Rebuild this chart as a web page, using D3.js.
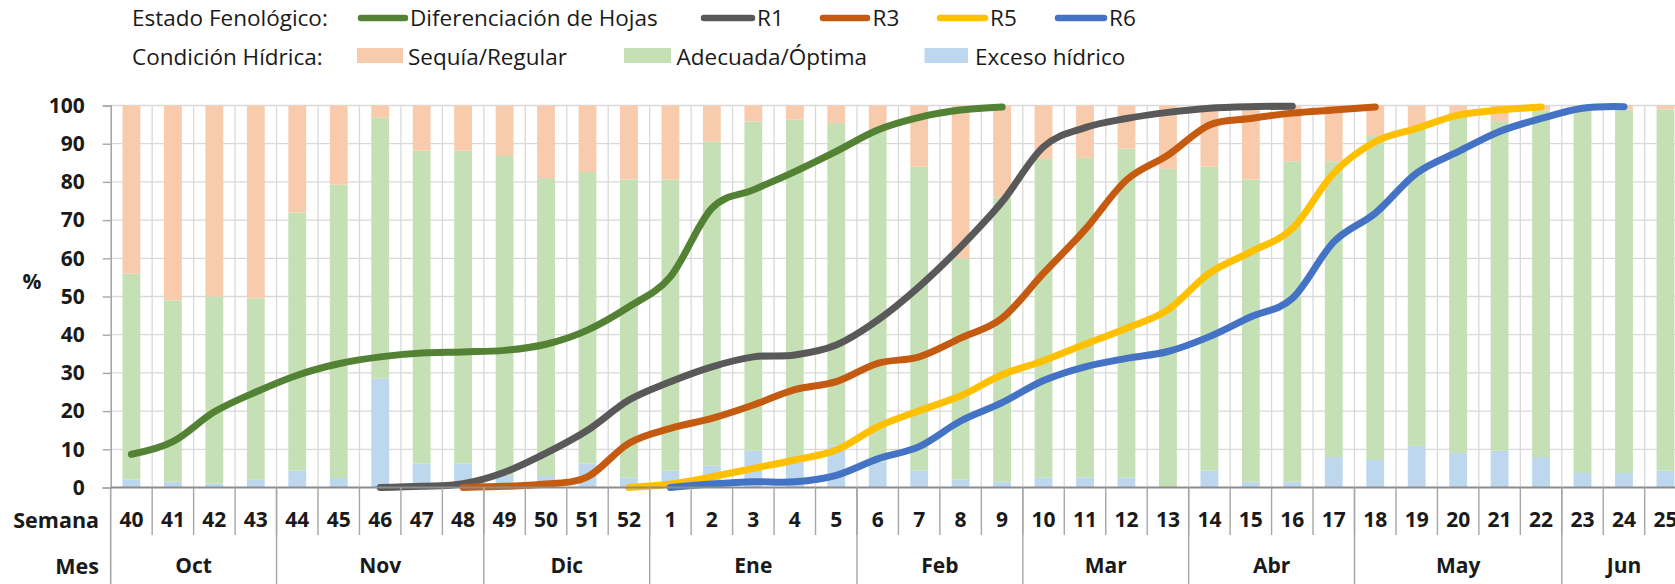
<!DOCTYPE html>
<html>
<head>
<meta charset="utf-8">
<script src="https://cdn.jsdelivr.net/npm/d3@7/dist/d3.min.js"></script>
<style>
  html, body { margin: 0; padding: 0; background: #fff; overflow: hidden; }
  svg { display: block; font-family: "Open Sans", "Noto Sans", sans-serif; }
</style>
</head>
<body>
<svg id="chart" width="1675" height="584"></svg>
<script>
// ---------- DATA ----------
const weeks = ["40","41","42","43","44","45","46","47","48","49","50","51","52",
  "1","2","3","4","5","6","7","8","9","10","11","12","13","14","15","16","17","18","19","20","21","22","23","24","25"];

const monthNames = ["Oct","Nov","Dic","Ene","Feb","Mar","Abr","May","Jun"];
const monthSpans = [4, 5, 4, 5, 4, 4, 4, 5, 3];

const yTicks = [0,10,20,30,40,50,60,70,80,90,100];

// Condición hídrica (%)
const exceso   = [2.1,1.5,1.0,2.0,4.4,2.5,28.5,6.3,6.3,3.0,3.0,6.3,2.6,
  4.4,5.7,9.6,8.0,11.0,6.8,4.4,2.1,1.5,2.6,2.6,2.6,0,4.4,1.5,1.5,8.0,7.2,10.9,9.0,9.6,8.0,3.8,3.8,4.4];
const adecuada = [53.9,47.5,49.0,47.5,67.6,76.8,68.3,81.9,81.9,83.8,78.0,76.3,78.0,
  76.2,84.9,86.2,88.3,84.4,86.2,79.6,57.9,74.5,83.4,83.7,86.1,83.4,79.6,79.1,83.9,77.4,84.8,83.4,88.8,86.3,90.7,95.7,95.1,94.6];
const sequia   = [44.0,51.0,50.0,50.5,28.0,20.7,3.2,11.8,11.8,13.2,19.0,17.4,19.4,
  19.4,9.4,4.2,3.7,4.6,7.0,16.0,40.0,24.0,14.0,13.7,11.3,16.6,16.0,19.4,14.6,14.6,8.0,5.7,2.2,4.1,1.3,0.5,1.1,1.0];

// Estado fenológico (% acumulado)
const difHojas = [8.7,12.0,19.8,25.0,29.4,32.4,34.2,35.2,35.5,35.9,37.5,41.2,47.3,
  55.2,73.1,77.9,82.7,88.0,93.6,96.9,98.8,99.6,null,null,null,null,null,null,null,null,null,null,null,null,null,null,null,null];
const r1 = [null,null,null,null,null,null,0,0.3,1.0,4.0,9.0,15.0,22.9,
  27.7,31.6,34.2,34.7,37.3,43.8,52.6,63.0,74.8,89.2,94.2,96.6,98.2,99.3,99.7,99.8,null,null,null,null,null,null,null,null,null];
const r3 = [null,null,null,null,null,null,null,null,0,0.3,0.9,2.8,11.6,
  15.5,18.1,21.6,25.6,27.7,32.5,34.2,39.1,44.3,56.1,67.5,80.5,87.0,94.9,96.6,98.0,98.8,99.6,null,null,null,null,null,null,null];
const r5 = [null,null,null,null,null,null,null,null,null,null,null,null,0,
  0.9,2.8,5.0,7.2,9.8,15.9,20.1,24.0,29.5,33.2,37.5,41.7,46.5,56.1,61.7,67.8,82.3,90.5,94.0,97.5,98.8,99.6,null,null,null];
const r6 = [null,null,null,null,null,null,null,null,null,null,null,null,null,
  0,0.9,1.5,1.5,3.2,7.5,10.7,17.4,22.2,28.0,31.6,33.8,35.6,39.5,44.7,49.5,64.3,71.8,82.3,87.9,93.2,96.6,99.3,99.7,null];

const lineNames  = ["Diferenciación de Hojas","R1","R3","R5","R6"];
const lineData   = [difHojas, r1, r3, r5, r6];
const lineColors = ["#548235","#595959","#C55A11","#FFC000","#4472C4"];

const barKeys   = ["exceso","adecuada","sequia"];
const barNames  = {exceso:"Exceso hídrico", adecuada:"Adecuada/Óptima", sequia:"Sequía/Regular"};
const barColors = {exceso:"#BDD7EE", adecuada:"#C5E0B4", sequia:"#F8CBAD"};

// ---------- LAYOUT ----------
const svg = d3.select("#chart");
const X0 = 110.7, STEP = 41.46;
const Y0 = 487.5, Y100 = 105.5;
const textColor = "#1a1a1a";

const x = d3.scaleBand().domain(weeks).range([X0, X0 + STEP * weeks.length]).padding(0);
const y = d3.scaleLinear().domain([0, 100]).range([Y0, Y100]);
const bw = x.bandwidth() * 0.43;

// gridlines
const grid = svg.append("g");
grid.selectAll("line.h").data(yTicks.filter(d => d > 0)).join("line")
  .attr("x1", X0).attr("x2", x.range()[1])
  .attr("y1", d => y(d)).attr("y2", d => y(d))
  .attr("stroke", "#d9d9d9").attr("stroke-width", 1.3);
grid.selectAll("line.v").data(weeks.slice(1)).join("line")
  .attr("x1", d => x(d)).attr("x2", d => x(d))
  .attr("y1", y(100)).attr("y2", y(0))
  .attr("stroke", "#d9d9d9").attr("stroke-width", 1.3);

// stacked bars
const table = weeks.map((w, i) => ({week: w, exceso: exceso[i], adecuada: adecuada[i], sequia: sequia[i]}));
const stacked = d3.stack().keys(barKeys)(table);
svg.append("g").selectAll("g").data(stacked).join("g")
  .attr("fill", d => barColors[d.key])
  .selectAll("rect").data(d => d).join("rect")
  .attr("x", d => x(d.data.week) + (x.bandwidth() - bw) / 2)
  .attr("width", bw)
  .attr("y", d => y(d[1]))
  .attr("height", d => Math.max(0, y(d[0]) - y(d[1])));

// lines
const lineGen = d3.line()
  .defined(d => d.v !== null)
  .x(d => x(d.w) + x.bandwidth() / 2)
  .y(d => y(d.v))
  .curve(d3.curveCatmullRom.alpha(0));
svg.append("g").selectAll("path").data(lineData).join("path")
  .attr("d", arr => lineGen(arr.map((v, i) => ({w: weeks[i], v}))))
  .attr("fill", "none")
  .attr("stroke", (d, i) => lineColors[i])
  .attr("stroke-width", 7)
  .attr("stroke-linecap", "round")
  .attr("stroke-linejoin", "round");

// y axis
const yAxis = d3.axisLeft(y).tickValues(yTicks).tickSize(8).tickPadding(18);
const gy = svg.append("g").attr("transform", `translate(${X0},0)`).call(yAxis);
gy.select(".domain").attr("stroke", "#a6a6a6").attr("stroke-width", 1.6);
gy.selectAll(".tick line").attr("stroke", "#a6a6a6").attr("stroke-width", 1.4);
gy.selectAll(".tick text")
  .attr("fill", textColor).style("font-size", "21px").style("font-weight", "700")
  .style("font-family", "'Open Sans', sans-serif");
// axis line extends through label rows
svg.append("line").attr("x1", X0).attr("x2", X0).attr("y1", Y0).attr("y2", 584)
  .attr("stroke", "#a6a6a6").attr("stroke-width", 1.6);

svg.append("text").text("%").attr("x", 32).attr("y", 281)
  .attr("text-anchor", "middle").attr("dominant-baseline", "central")
  .attr("fill", textColor).style("font-size", "21px").style("font-weight", "700");

// x axis (weeks)
const gx = svg.append("g");
gx.append("line").attr("x1", X0).attr("x2", x.range()[1]).attr("y1", Y0).attr("y2", Y0)
  .attr("stroke", "#8c8c8c").attr("stroke-width", 2);
gx.selectAll("line.sep").data(weeks.slice(1)).join("line")
  .attr("x1", d => x(d)).attr("x2", d => x(d))
  .attr("y1", Y0).attr("y2", 535)
  .attr("stroke", "#a6a6a6").attr("stroke-width", 1.4);
gx.selectAll("text.wk").data(weeks).join("text")
  .text(d => d)
  .attr("x", d => x(d) + x.bandwidth() / 2).attr("y", 519)
  .attr("text-anchor", "middle").attr("dominant-baseline", "central")
  .attr("fill", textColor).style("font-size", "21px").style("font-weight", "700");
svg.append("text").text("Semana").attr("x", 99).attr("y", 519)
  .attr("text-anchor", "end").attr("dominant-baseline", "central")
  .attr("fill", textColor).style("font-size", "21.5px").style("font-weight", "700");

// months
let start = 0;
const monthGroups = monthNames.map((m, i) => {
  const g = {name: m, first: weeks[start], last: weeks[start + monthSpans[i] - 1]};
  start += monthSpans[i];
  return g;
});
gx.selectAll("line.msep").data(monthGroups.slice(1)).join("line")
  .attr("x1", d => x(d.first)).attr("x2", d => x(d.first))
  .attr("y1", Y0).attr("y2", 584)
  .attr("stroke", "#a6a6a6").attr("stroke-width", 1.4);
gx.selectAll("text.mes").data(monthGroups).join("text")
  .text(d => d.name)
  .attr("x", d => (x(d.first) + x(d.last) + x.bandwidth()) / 2).attr("y", 565)
  .attr("text-anchor", "middle").attr("dominant-baseline", "central")
  .attr("fill", textColor).style("font-size", "21px").style("font-weight", "700");
svg.append("text").text("Mes").attr("x", 99).attr("y", 565)
  .attr("text-anchor", "end").attr("dominant-baseline", "central")
  .attr("fill", textColor).style("font-size", "21.5px").style("font-weight", "700");

// ---------- LEGEND ----------
const leg = svg.append("g").style("font-size", "22.5px").attr("fill", textColor);
leg.append("text").text("Estado Fenológico:").attr("x", 132).attr("y", 25.5);
leg.append("text").text("Condición Hídrica:").attr("x", 132).attr("y", 64.5);

const lineLegX = [[358, 408, 410], [701, 755, 757], [820, 870, 872.5], [937, 988, 990], [1055, 1107, 1109]];
lineNames.forEach((n, i) => {
  const [a, b, t] = lineLegX[i];
  leg.append("line").attr("x1", a + 3).attr("x2", b - 3).attr("y1", 18).attr("y2", 18)
    .attr("stroke", lineColors[i]).attr("stroke-width", 6.5).attr("stroke-linecap", "round");
  leg.append("text").text(n).attr("x", t).attr("y", 25.5);
});
const barLegX = {sequia: [357, 403, 408], adecuada: [624, 671, 676.5], exceso: [924.5, 968, 975]};
["sequia", "adecuada", "exceso"].forEach(k => {
  const [a, b, t] = barLegX[k];
  leg.append("rect").attr("x", a).attr("y", 48).attr("width", b - a).attr("height", 15)
    .attr("fill", barColors[k]);
  leg.append("text").text(barNames[k]).attr("x", t).attr("y", 64.5);
});
</script>
</body>
</html>
